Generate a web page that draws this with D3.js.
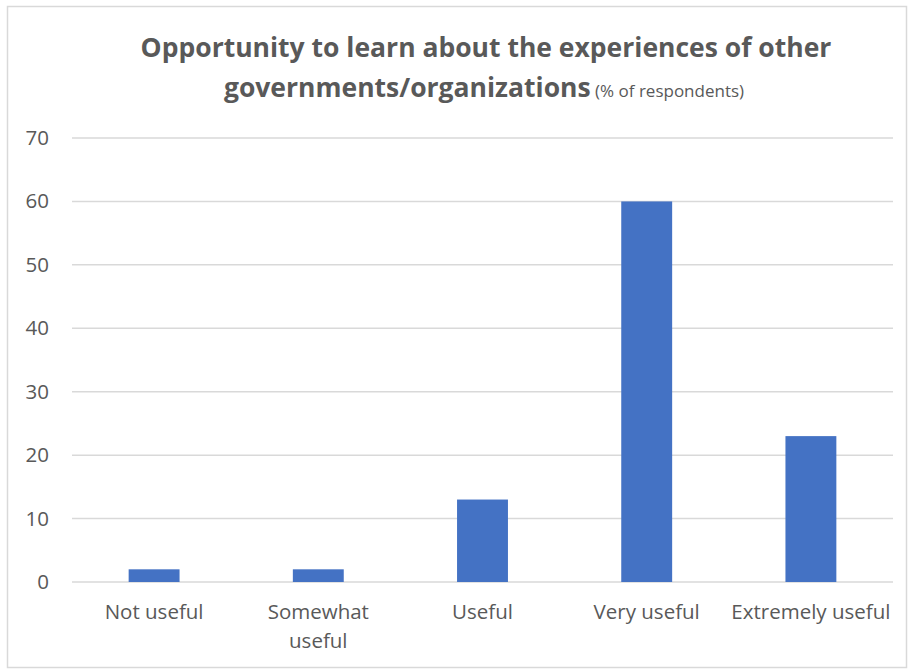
<!DOCTYPE html>
<html>
<head>
<meta charset="utf-8">
<script src="https://cdn.jsdelivr.net/npm/d3@7"></script>
<style>
  body { margin: 0; background: #fff; }
  text { font-family: "Open Sans", "Noto Sans", sans-serif; fill: #595959; }
</style>
</head>
<body>
<div id="chart"></div>
<script>
const categories = ['Not useful', 'Somewhat useful', 'Useful', 'Very useful', 'Extremely useful'];
const values = [2, 2, 13, 60, 23];
const yTicks = [0, 10, 20, 30, 40, 50, 60, 70];

const width = 909;
const height = 671;
const margin = { top: 138, right: 16, bottom: 89, left: 72 };
const chartWidth = width - margin.left - margin.right;
const chartHeight = height - margin.top - margin.bottom;

const svg = d3.select('#chart').append('svg')
  .attr('width', width)
  .attr('height', height);

// chart border
svg.append('rect')
  .attr('x', 7.5).attr('y', 6.5)
  .attr('width', width - 10).attr('height', height - 10)
  .attr('fill', 'none')
  .attr('stroke', '#d9d9d9')
  .attr('stroke-width', 1.5);

// title
const title = svg.append('text')
  .attr('text-anchor', 'middle')
  .attr('font-weight', 'bold')
  .attr('font-size', 26.5);
title.append('tspan')
  .attr('x', 486).attr('y', 57)
  .text('Opportunity to learn about the experiences of other');
title.append('tspan')
  .attr('x', 484).attr('y', 97)
  .text('governments/organizations');
title.append('tspan')
  .attr('font-weight', 'normal')
  .attr('font-size', 17)
  .text(' (% of respondents)');

const g = svg.append('g')
  .attr('transform', `translate(${margin.left},${margin.top})`);

const xScale = d3.scaleBand()
  .domain(categories)
  .range([0, chartWidth])
  .paddingInner(0.69)
  .paddingOuter(0.345);

const yScale = d3.scaleLinear()
  .domain([0, 70])
  .range([chartHeight, 0]);

// gridlines
g.append('g')
  .selectAll('line')
  .data(yTicks)
  .join('line')
  .attr('x1', 0)
  .attr('x2', chartWidth)
  .attr('y1', d => yScale(d))
  .attr('y2', d => yScale(d))
  .attr('stroke', '#d9d9d9')
  .attr('stroke-width', 1.5);

// y axis
const yAxis = d3.axisLeft(yScale)
  .tickValues(yTicks)
  .tickSize(0)
  .tickPadding(23);

g.append('g')
  .call(yAxis)
  .call(s => s.select('.domain').remove())
  .selectAll('text')
  .attr('font-size', 20.5)
  .attr('fill', '#595959')
  .style('font-family', '"Open Sans", sans-serif');

// bars
g.selectAll('.bar')
  .data(values)
  .join('rect')
  .attr('class', 'bar')
  .attr('x', (d, i) => xScale(categories[i]))
  .attr('width', xScale.bandwidth())
  .attr('y', d => yScale(d))
  .attr('height', d => chartHeight - yScale(d))
  .attr('fill', '#4472c4');

// x axis
const xAxis = d3.axisBottom(xScale)
  .tickSize(0)
  .tickPadding(22);

const xg = g.append('g')
  .attr('transform', `translate(0,${chartHeight})`)
  .call(xAxis);
xg.select('.domain').remove();
xg.selectAll('text')
  .attr('font-size', 20.5)
  .attr('fill', '#595959')
  .style('font-family', '"Open Sans", sans-serif')
  .each(function(d) {
    const t = d3.select(this);
    if (d === 'Somewhat useful') {
      t.text(null);
      t.append('tspan').attr('x', 0).attr('dy', '0.71em').text('Somewhat');
      t.append('tspan').attr('x', 0).attr('dy', '1.42em').text('useful');
      t.attr('dy', null);
    }
  });
</script>
</body>
</html>
